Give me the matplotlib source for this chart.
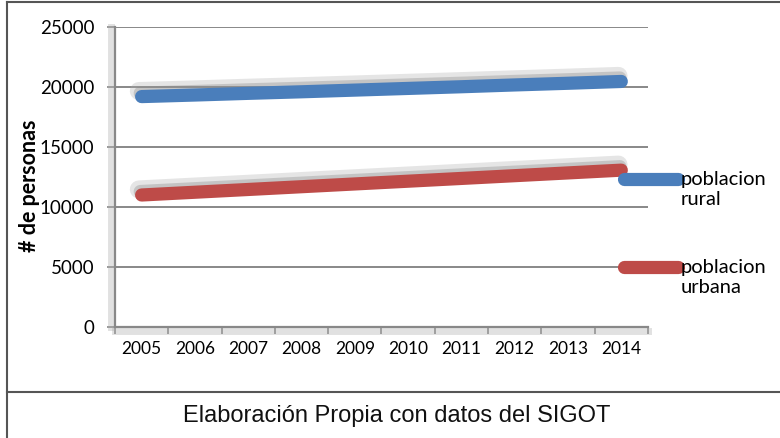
import matplotlib
matplotlib.use("Agg")
import matplotlib.pyplot as plt
import matplotlib.patheffects as pe
from matplotlib.lines import Line2D

years = [2005, 2006, 2007, 2008, 2009, 2010, 2011, 2012, 2013, 2014]
rural = [19200, 19330, 19470, 19600, 19740, 19880, 20020, 20170, 20310, 20460]
urbana = [11000, 11230, 11460, 11690, 11920, 12150, 12380, 12610, 12840, 13070]
labels = ["poblacion\nrural", "poblacion\nurbana"]
yticks = [0, 5000, 10000, 15000, 20000, 25000]

plt.rcParams['font.family'] = ['Lato', 'DejaVu Sans']

fig = plt.figure(figsize=(7.8, 4.38), dpi=100)
ax = fig.add_axes([0.1474, 0.2534, 0.6833, 0.685])

# soft shadow above the lines
shadow = [pe.SimpleLineShadow(offset=(-2, 4), shadow_color='#aaaaaa', alpha=0.3, linewidth=13),
          pe.SimpleLineShadow(offset=(-1, 2.5), shadow_color='#888888', alpha=0.35),
          pe.Normal()]

x = list(range(len(years)))
ax.plot(x, rural, color='#4a7ebb', lw=9.5, solid_capstyle='round',
        label=labels[0], path_effects=shadow)
ax.plot(x, urbana, color='#be4b48', lw=9.5, solid_capstyle='round',
        label=labels[1], path_effects=shadow)

ax.set_xlim(-0.5, len(years) - 0.5)
ax.set_ylim(0, 25000)
ax.set_yticks(yticks)
ax.set_xticks(x)
ax.set_xticklabels([str(y) for y in years])
ax.set_xticks([i - 0.5 for i in range(len(years) + 1)], minor=True)
ax.tick_params(axis='x', which='major', length=0, pad=10, labelsize=12.5)
ax.tick_params(axis='x', which='minor', length=5, color='#888888', width=1.2)
ax.tick_params(axis='y', length=6, pad=9, color='#888888', width=1.2, labelsize=13.5)
ax.yaxis.grid(True, color='#888888', lw=1.4)
ax.set_axisbelow(True)

for s in ['top', 'right']:
    ax.spines[s].set_visible(False)
for s in ['left', 'bottom']:
    ax.spines[s].set_color('#888888')
    ax.spines[s].set_linewidth(1.6)
ax.spines['left'].set_path_effects([pe.SimpleLineShadow(offset=(-3, 0), shadow_color='#aaaaaa', alpha=0.35, linewidth=5), pe.Normal()])
ax.spines['bottom'].set_path_effects([pe.SimpleLineShadow(offset=(0, -3), shadow_color='#aaaaaa', alpha=0.35, linewidth=5), pe.Normal()])

ax.set_ylabel('# de personas', fontsize=15.5, fontweight='bold')
ax.yaxis.set_label_coords(-0.14, 0.47)

fs = 14.5
leg = ax.legend(loc='upper left', bbox_to_anchor=(0.955, 0.519), frameon=False,
                fontsize=fs, handlelength=2.7, handletextpad=0.1, labelspacing=2.55,
                borderpad=0, borderaxespad=0)
for h in leg.legend_handles:
    h.set_path_effects([])
    h.set_ydata([y + 0.55 * fs for y in h.get_ydata()])

# table cell borders
for xs, ys in [([0.009, 1.0], [0.995, 0.995]), ([0.009, 0.009], [0.0, 0.995]), ([0.009, 1.0], [0.105, 0.105])]:
    fig.add_artist(Line2D(xs, ys, transform=fig.transFigure, color='#555555', lw=1.5))

fig.text(0.509, 0.05, 'Elaboración Propia con datos del SIGOT',
         family=['Liberation Sans', 'DejaVu Sans'], fontsize=17,
         ha='center', va='center', color='#111111')

fig.savefig('out.png', dpi=100)
